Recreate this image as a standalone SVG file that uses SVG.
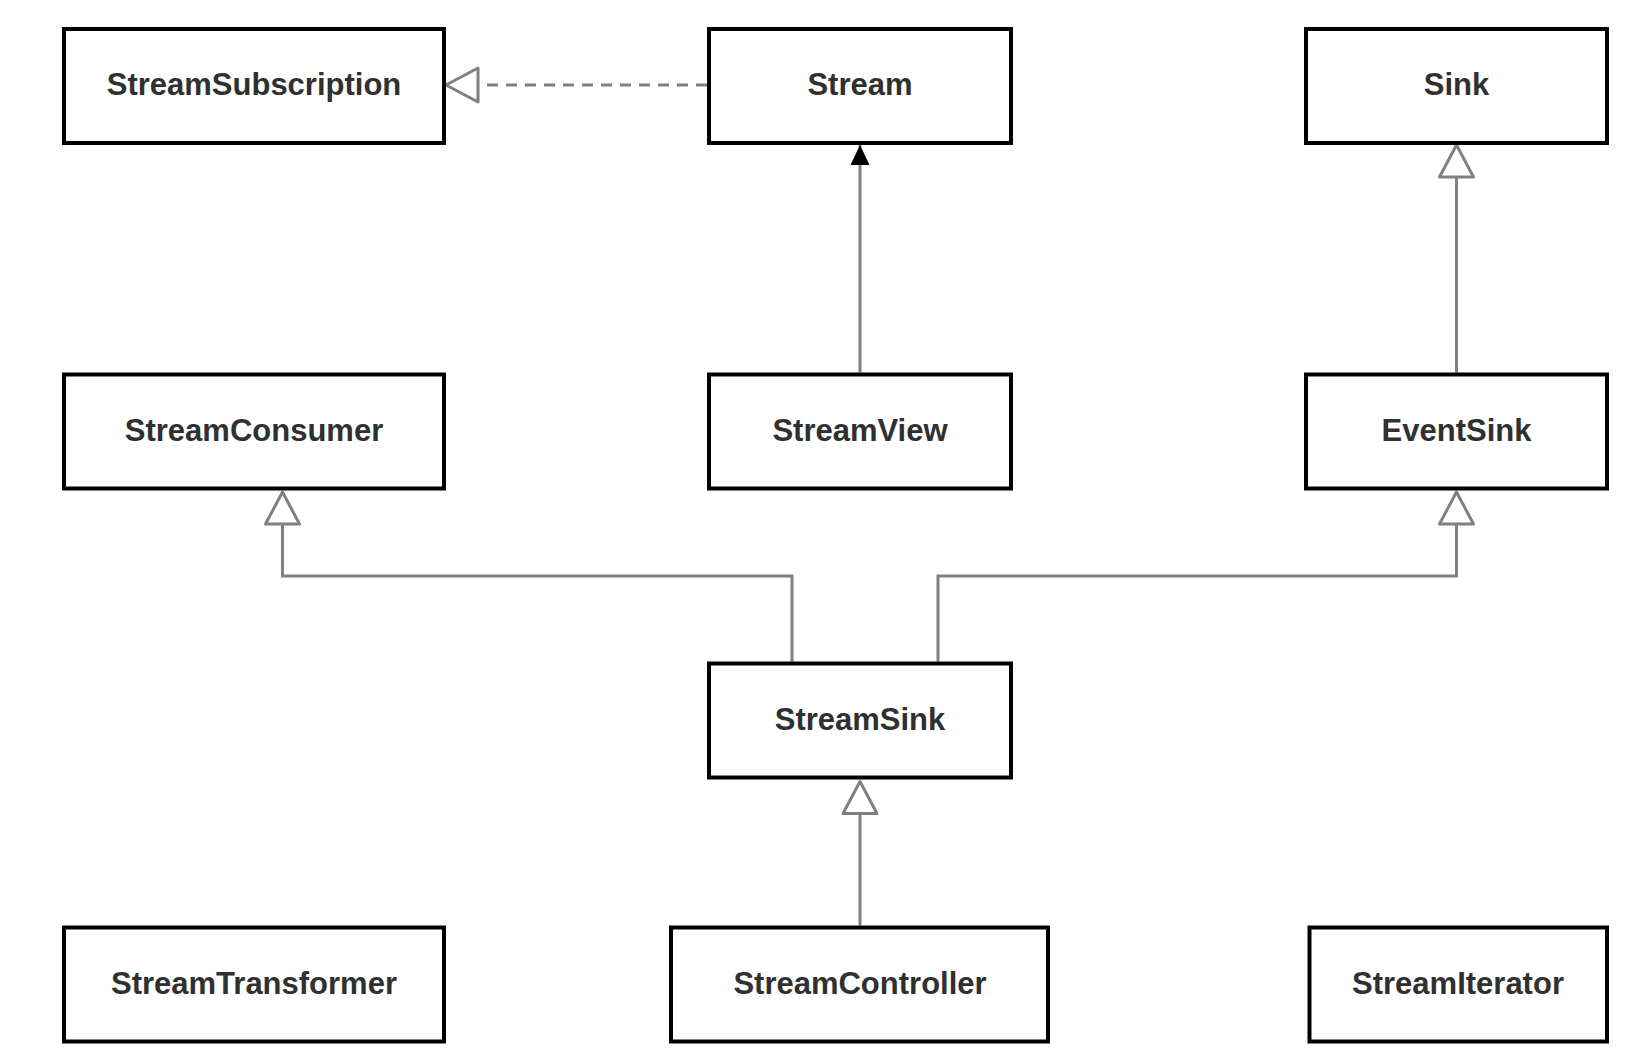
<svg xmlns="http://www.w3.org/2000/svg" width="1636" height="1060" viewBox="0 0 1636 1060">
<style>
.box{fill:#ffffff;stroke:#000000;stroke-width:4}
.lbl{font-family:"Liberation Sans",Arial,sans-serif;font-size:31px;font-weight:bold;fill:#303030;text-anchor:middle;dominant-baseline:central}
.edge{fill:none;stroke:#808080;stroke-width:3}
.dash{stroke-dasharray:11 8}
</style>
<defs>
<marker id="hollow" markerUnits="userSpaceOnUse" viewBox="0 0 36 36" refX="34" refY="18" markerWidth="36" markerHeight="36" orient="auto" overflow="visible">
<path d="M2,1 L34,18 L2,35 Z" fill="#ffffff" stroke="#808080" stroke-width="3" stroke-linejoin="round"/>
</marker>
<marker id="filled" markerUnits="userSpaceOnUse" viewBox="0 0 20 20" refX="20" refY="10" markerWidth="20" markerHeight="20" orient="auto" overflow="visible">
<path d="M0,0.5 L20,10 L0,19.5 Z" fill="#000000"/>
</marker>
</defs>
<rect width="1636" height="1060" fill="#ffffff"/>
<g id="connectors">
<path class="edge dash" d="M707,85 L446,85" marker-end="url(#hollow)"/>
<path class="edge" d="M860,372.5 L860,145" marker-end="url(#filled)"/>
<path class="edge" d="M1456.5,372.5 L1456.5,145" marker-end="url(#hollow)"/>
<path class="edge" d="M792,661.5 L792,576 L282.5,576 L282.5,492" marker-end="url(#hollow)"/>
<path class="edge" d="M938,661.5 L938,576 L1456.5,576 L1456.5,492" marker-end="url(#hollow)"/>
<path class="edge" d="M860,925.5 L860,781.5" marker-end="url(#hollow)"/>
</g>
<g id="StreamSubscription"><rect class="box" x="64" y="29" width="380" height="114"/><text class="lbl" x="254" y="84.5">StreamSubscription</text></g>
<g id="Stream"><rect class="box" x="709" y="29" width="302" height="114"/><text class="lbl" x="860" y="84.5">Stream</text></g>
<g id="Sink"><rect class="box" x="1306" y="29" width="301" height="114"/><text class="lbl" x="1456.5" y="84.5">Sink</text></g>
<g id="StreamConsumer"><rect class="box" x="64" y="374.5" width="380" height="114"/><text class="lbl" x="254" y="430">StreamConsumer</text></g>
<g id="StreamView"><rect class="box" x="709" y="374.5" width="302" height="114"/><text class="lbl" x="860" y="430">StreamView</text></g>
<g id="EventSink"><rect class="box" x="1306" y="374.5" width="301" height="114"/><text class="lbl" x="1456.5" y="430">EventSink</text></g>
<g id="StreamSink"><rect class="box" x="709" y="663.5" width="302" height="114"/><text class="lbl" x="860" y="719">StreamSink</text></g>
<g id="StreamTransformer"><rect class="box" x="64" y="927.5" width="380" height="114"/><text class="lbl" x="254" y="983">StreamTransformer</text></g>
<g id="StreamController"><rect class="box" x="671" y="927.5" width="377" height="114"/><text class="lbl" x="860" y="983">StreamController</text></g>
<g id="StreamIterator"><rect class="box" x="1309.5" y="927.5" width="297.5" height="114"/><text class="lbl" x="1458" y="983">StreamIterator</text></g>
</svg>
